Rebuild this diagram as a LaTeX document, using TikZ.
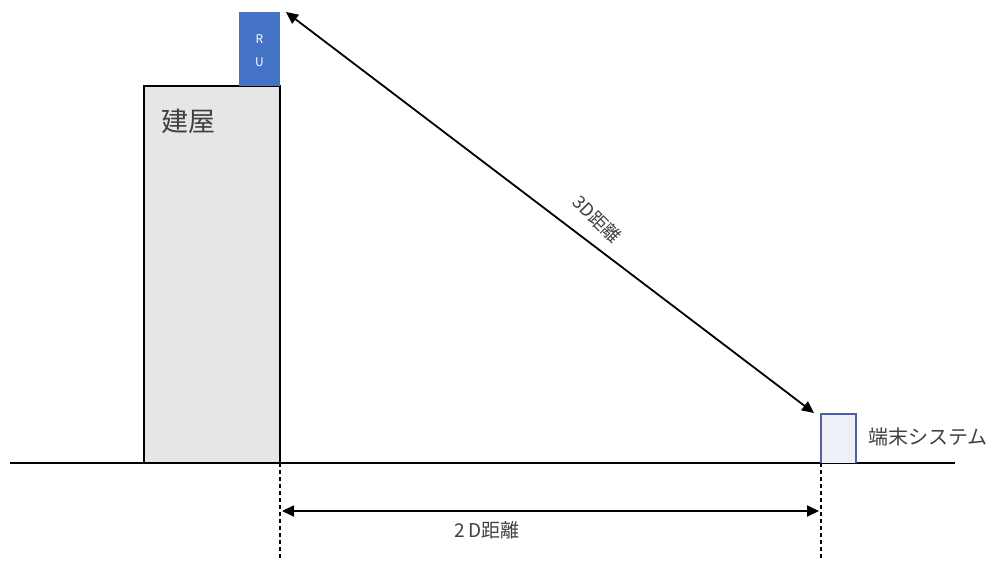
\documentclass[tikz,border=0pt]{standalone}
\usepackage{fontspec}
\setmainfont{Noto Sans CJK JP}
\usetikzlibrary{arrows.meta}
\definecolor{rublue}{HTML}{4472C4}
\definecolor{bldg}{HTML}{E7E6E6}
\definecolor{termedge}{HTML}{4F5F9F}
\definecolor{termfill}{HTML}{EEF0F8}
\definecolor{txt}{HTML}{404040}
\begin{document}
\begin{tikzpicture}[x=1pt,y=-1pt,
  dim/.style={line width=1.8pt,{Triangle[length=12pt,width=11pt]}-{Triangle[length=12pt,width=11pt]}},
  guide/.style={line width=1.2pt,dashed,dash pattern=on 4pt off 3pt},
  lbl/.style={inner sep=0pt,text=txt}]
\useasboundingbox (0,0) rectangle (995,561);
% building
\draw[fill=bldg,line width=1.2pt] (144,463) rectangle (280,86);
\node[lbl,font=\fontsize{27pt}{27pt}\selectfont,anchor=west] (bl) at (161,121) {建屋};
% RU
\fill[rublue] (239,12) rectangle (280,86);
\node[inner sep=0pt,text=white,font=\fontsize{12pt}{12pt}\selectfont] (r) at (259.5,39) {R};
\node[inner sep=0pt,text=white,font=\fontsize{12pt}{12pt}\selectfont] (u) at (259.5,62) {U};
\coordinate (ru) at (286,12);
% ground
\draw[line width=1.6pt] (10,463) -- (955,463);
% terminal
\draw[fill=termfill,draw=termedge,line width=1.1pt] (821,463) -- (821,414) -- (856,414) -- (856,463);
\coordinate (term) at (814,413);
\node[lbl,font=\fontsize{20pt}{20pt}\selectfont,anchor=west] (tl) at (868,437) {端末システム};
% 3D distance
\draw[dim] (ru) -- (term);
\node[lbl,font=\fontsize{18pt}{18pt}\selectfont,rotate=-45] (l3) at (597,219) {3D距離};
% guides
\coordinate (g1a) at (280,463); \coordinate (g1b) at (280,561);
\coordinate (g2a) at (821,463); \coordinate (g2b) at (821,561);
\draw[guide] (g1a) -- (g1b);
\draw[guide] (g2a) -- (g2b);
% 2D distance
\coordinate (d1) at (282,511); \coordinate (d2) at (819,511);
\draw[dim] (d1) -- (d2);
\node[lbl,font=\fontsize{19pt}{19pt}\selectfont] (l2) at (487,530) {2 D距離};
\end{tikzpicture}
\end{document}
